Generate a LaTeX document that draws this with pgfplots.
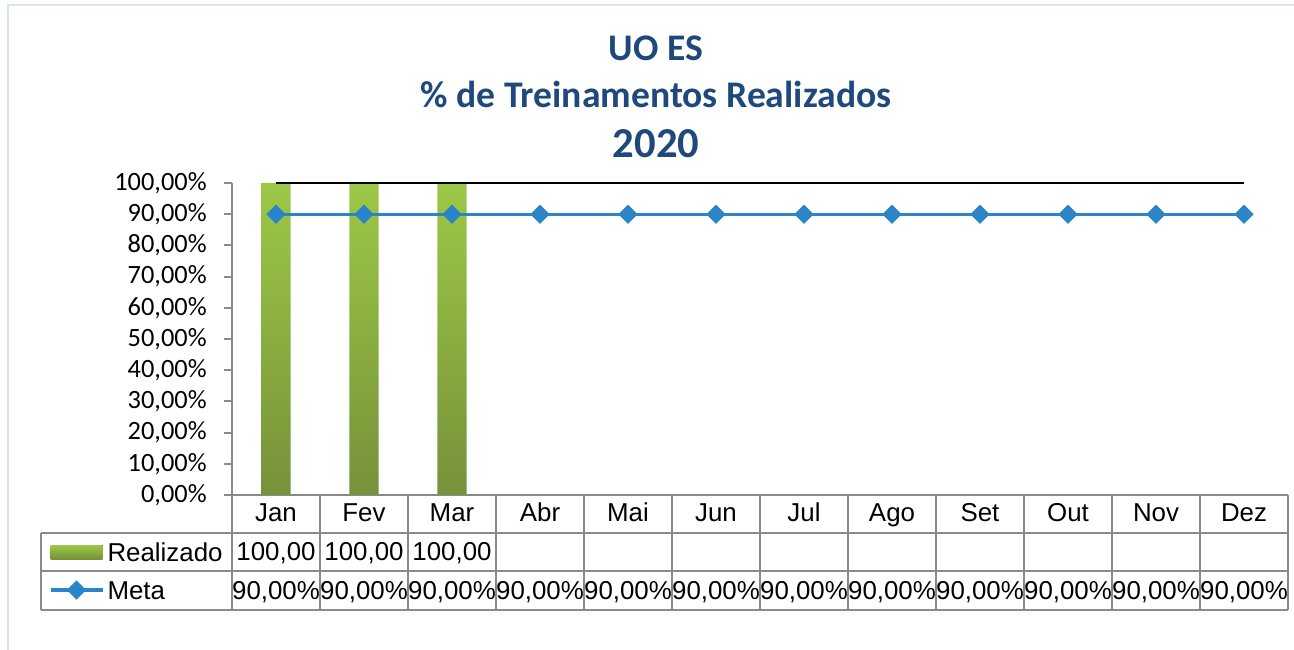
\documentclass[border=0pt]{standalone}
\usepackage{fontspec}
\setmainfont{Carlito}
\newfontfamily\arial{Liberation Sans}
\usepackage{pgfplots}
\pgfplotsset{compat=1.18}
\definecolor{titleblue}{RGB}{31,73,125}
\definecolor{metablue}{RGB}{41,132,201}
\definecolor{bartop}{RGB}{157,200,70}
\definecolor{barbot}{RGB}{118,146,58}
\definecolor{gridgray}{RGB}{138,138,138}
\definecolor{framecol}{RGB}{218,229,243}
\begin{document}
\begin{tikzpicture}
\begin{scope}[x=0.75pt,y=0.75pt]
\path[use as bounding box] (0,0) rectangle (1294,649);
\draw[framecol, line width=2pt] (8,-20) -- (8,644) -- (1320,644);
\node[anchor=base, text=titleblue, font=\bfseries\fontsize{28.2}{33}\selectfont] at (656,588) {UO ES};
\node[anchor=base, text=titleblue, font=\bfseries\fontsize{28.2}{33}\selectfont] at (656,541) {\% de Treinamentos Realizados};
\node[anchor=base, text=titleblue, font=\bfseries\fontsize{32}{36}\selectfont] at (656,491) {2020};
\end{scope}
\begin{axis}[
  at={(174pt,115.5pt)}, anchor=south west,
  scale only axis, width=792pt, height=234pt,
  xmin=-0.5, xmax=11.5, ymin=0, ymax=100,
  clip=false,
  axis x line*=bottom, axis y line*=left,
  axis line style={draw=gridgray, line width=1.5pt, -},
  tick align=outside, major tick length=6pt,
  ytick={0,10,...,100},
  yticklabels={{0,00\%},{10,00\%},{20,00\%},{30,00\%},{40,00\%},{50,00\%},{60,00\%},{70,00\%},{80,00\%},{90,00\%},{100,00\%}},
  y tick style={draw=gridgray, line width=1.5pt},
  yticklabel style={font=\fontsize{19.8}{23}\selectfont, xshift=-9.5pt},
  xtick={0,...,11},
  xticklabels={Jan,Fev,Mar,Abr,Mai,Jun,Jul,Ago,Set,Out,Nov,Dez},
  x tick style={draw=none},
  xticklabel style={font=\arial\fontsize{19.4}{23}\selectfont, anchor=base, yshift=-14pt},
  legend style={draw=none, fill=none, inner sep=0pt, outer sep=0pt,
    at={(-0.1733,-0.1528)}, anchor=north west,
    font=\arial\fontsize{19.4}{23}\selectfont,
    nodes={inner sep=0pt, text height=14pt, text depth=0pt},
    row sep=14.5pt,
    /tikz/every odd column/.append style={column sep=2.5pt}},
  legend cell align=left,
]
\addplot[ybar, bar width=0.33, draw=none, top color=bartop, bottom color=barbot,
  legend image code/.code={\fill[top color=bartop, bottom color=barbot] (0pt,-5.25pt) rectangle (39pt,5.25pt);}]
  coordinates {(0,100) (1,100) (2,100)};
\addlegendentry{Realizado}
\addplot[black, line width=1.5pt, forget plot]
  coordinates {(0,100) (1,100) (2,100) (3,100) (4,100) (5,100) (6,100) (7,100) (8,100) (9,100) (10,100) (11,100)};
\addplot[metablue, line width=2.4pt, mark=square*, mark size=3.9pt, mark options={solid, fill=metablue, draw=none, rotate=45},
  legend image code/.code={\draw[metablue, line width=2.4pt, mark=square*, mark size=3.9pt, mark options={solid, fill=metablue, draw=none, rotate=45}, mark repeat=2, mark phase=2] plot coordinates {(0pt,0pt) (19.5pt,0pt) (39pt,0pt)};}]
  coordinates {(0,90) (1,90) (2,90) (3,90) (4,90) (5,90) (6,90) (7,90) (8,90) (9,90) (10,90) (11,90)};
\addlegendentry{Meta}
\end{axis}
\begin{scope}[x=0.75pt,y=0.75pt]
\draw[gridgray, line width=1.5pt] (41,116) -- (1288,116) (41,78) -- (1288,78) (41,39) -- (1288,39);
\draw[gridgray, line width=1.5pt] (41,116) -- (41,39);
\foreach \k in {0,...,12} { \draw[gridgray, line width=1.5pt] ({232+88*\k},154) -- ({232+88*\k},39); }
\foreach \k in {0,1,2} { \node[anchor=base, font=\arial\fontsize{19.4}{23}\selectfont, inner sep=0pt] at ({276+88*\k},88.5) {100,00}; }
\foreach \k in {0,...,11} { \node[anchor=base, font=\arial\fontsize{19.4}{23}\selectfont, inner sep=0pt] at ({276+88*\k},50) {90,00\%}; }
\end{scope}
\end{tikzpicture}
\end{document}
